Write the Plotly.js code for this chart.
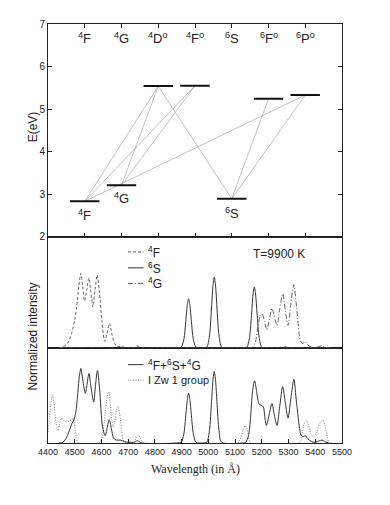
<!DOCTYPE html>
<html>
<head>
<meta charset="utf-8">
<script src="https://cdn.plot.ly/plotly-3.0.1.min.js"></script>
<style>body{margin:0;background:#fff}</style>
</head>
<body>
<div id="chart" style="width:390px;height:505px"></div>
<script>
// energy levels (top panel)
const lvName=['<sup>4</sup>F','<sup>4</sup>G','<sup>4</sup>D<sup>o</sup>','<sup>4</sup>F<sup>o</sup>','<sup>6</sup>S','<sup>6</sup>F<sup>o</sup>','<sup>6</sup>P<sup>o</sup>'];
const lvX=[1,2,3,4,5,6,7];
const lvE=[2.83,3.21,5.54,5.55,2.89,5.24,5.33];
// transitions: [lower, upper] index into levels
const trans=[[0,2],[0,3],[0,6],[1,2],[1,3],[4,2],[4,5],[4,6]];

// middle panel: single terms, T=9900 K
const fX=[4440,4455,4470,4480,4490,4500,4508,4515,4523,4530,4537,4545,4553,4560,4568,4576,4584,4592,4602,4612,4620,4630,4638,4649,4660,4674,4690,4720,4733,4745,4800,5460];
const fY=[0,0.01,0.05,0.11,0.215,0.38,0.57,0.82,1.0,0.82,0.63,0.78,0.94,0.76,0.55,0.78,0.98,0.76,0.35,0.09,0.18,0.33,0.2,0.06,0.02,0.02,0.005,0,0.03,0,0,0];
const sX=[4440,4880,4898,4908,4916,4921,4926,4931,4936,4944,4954,4970,4980,4994,5004,5012,5017,5022,5027,5032,5040,5050,5070,5130,5144,5154,5162,5167,5172,5177,5182,5190,5200,5215,5280,5288,5296,5460];
const sY=[0,0,0.01,0.11,0.38,0.57,0.66,0.57,0.38,0.11,0.01,0,0,0.01,0.16,0.55,0.83,0.95,0.83,0.55,0.16,0.01,0,0,0.01,0.14,0.47,0.71,0.82,0.71,0.47,0.14,0.01,0,0,0.015,0,0];
const gX=[4440,5150,5165,5176,5186,5194,5201,5210,5219,5228,5238,5247,5257,5267,5278,5288,5298,5309,5320,5330,5344,5352,5362,5372,5385,5400,5415,5425,5435,5450,5460];
const gY=[0,0,0.01,0.08,0.3,0.43,0.46,0.36,0.24,0.38,0.53,0.42,0.3,0.52,0.73,0.5,0.3,0.6,0.85,0.55,0.1,0.06,0.08,0.04,0.01,0.005,0.02,0.03,0.01,0,0];

// bottom panel: sum and I Zw 1 group
const sumX=[4440,4456,4470,4480,4490,4496,4503,4510,4516,4523,4530,4540,4546,4553,4561,4571,4578,4585,4593,4604,4614,4621,4629,4637,4645,4655,4670,4685,4700,4720,4735,4750,4880,4898,4908,4916,4921,4926,4931,4936,4944,4954,4980,4994,5004,5012,5017,5022,5027,5032,5040,5050,5130,5140,5150,5158,5165,5173,5180,5188,5194,5205,5211,5217,5228,5238,5247,5257,5267,5278,5288,5298,5309,5320,5330,5348,5356,5363,5372,5385,5400,5415,5425,5435,5450];
const sumY=[0,0.01,0.08,0.17,0.27,0.31,0.4,0.62,0.87,1.02,0.86,0.68,0.8,0.95,0.76,0.56,0.8,0.99,0.74,0.22,0.1,0.2,0.32,0.2,0.07,0.04,0.04,0.02,0.01,0.01,0.03,0,0,0.01,0.12,0.4,0.58,0.68,0.58,0.4,0.12,0.01,0,0.01,0.17,0.57,0.85,0.98,0.85,0.57,0.17,0.01,0,0.01,0.1,0.35,0.7,0.85,0.72,0.55,0.52,0.5,0.36,0.24,0.4,0.54,0.38,0.24,0.5,0.77,0.55,0.34,0.62,0.87,0.55,0.1,0.09,0.1,0.06,0.02,0.01,0.03,0.04,0.02,0];
const izX=[4400,4406,4412,4417,4422,4430,4437,4443,4450,4458,4466,4474,4480,4488,4496,4502,4508,4515,4590,4598,4606,4614,4621,4627,4633,4638,4643,4650,4656,4662,4668,4675,4683,4695,4720,4728,4737,4746,4755,4765,5110,5120,5130,5138,5146,5152,5158,5340,5350,5358,5366,5374,5384,5394,5404,5416,5429,5437,5445,5452,5463];
const izY=[0.15,0.35,0.58,0.66,0.55,0.28,0.17,0.25,0.34,0.31,0.29,0.29,0.3,0.32,0.33,0.18,0.03,0,0,0.03,0.15,0.4,0.63,0.7,0.55,0.35,0.22,0.3,0.45,0.5,0.4,0.18,0.03,0,0,0.06,0.11,0.06,0.01,0,0,0.06,0.18,0.24,0.17,0.05,0,0,0.12,0.26,0.31,0.25,0.12,0.08,0.13,0.26,0.31,0.22,0.08,0.01,0];

const ink='#222';
const barHalf=0.4;

let barX=[],barY=[];
for(let i=0;i<lvX.length;i++){
    barX.push(lvX[i]-barHalf,lvX[i]+barHalf,null);
    barY.push(lvE[i],lvE[i],null);
}
let trX=[],trY=[];
trans.forEach(t=>{
    trX.push(lvX[t[0]],lvX[t[1]],null);
    trY.push(lvE[t[0]],lvE[t[1]],null);
});

const dashF='3px,2px';
const dashG='5px,2px,1px,2px';
const dashI='1px,1.5px';

const data=[
    {x:trX,y:trY,xaxis:'x',yaxis:'y',mode:'lines',line:{color:'#9a9a9a',width:0.6},hoverinfo:'skip'},
    {x:barX,y:barY,xaxis:'x',yaxis:'y',mode:'lines',line:{color:'#111',width:2},hoverinfo:'skip'},
    {x:fX,y:fY,xaxis:'x3',yaxis:'y2',mode:'lines',line:{color:'#555',width:0.9,dash:dashF,shape:'spline',smoothing:0.8}},
    {x:sX,y:sY,xaxis:'x3',yaxis:'y2',mode:'lines',line:{color:'#333',width:1,shape:'spline',smoothing:0.8}},
    {x:gX,y:gY,xaxis:'x3',yaxis:'y2',mode:'lines',line:{color:'#555',width:0.9,dash:dashG,shape:'spline',smoothing:0.8}},
    {x:izX,y:izY,xaxis:'x2',yaxis:'y3',mode:'lines',line:{color:'#888',width:1,dash:dashI,shape:'spline',smoothing:0.8}},
    {x:sumX,y:sumY,xaxis:'x2',yaxis:'y3',mode:'lines',line:{color:'#333',width:1,shape:'spline',smoothing:0.8}}
];

const yTop=0.4925, yMid=0.2269;
const frame={showline:true,linecolor:ink,linewidth:1,showgrid:false,zeroline:false};

const ann=[];
function label(x,y,text,opt){
    ann.push(Object.assign({x:x,y:y,xref:'paper',yref:'paper',text:text,showarrow:false,xanchor:'center',yanchor:'middle',font:{size:12}},opt||{}));
}
for(let i=0;i<lvX.length;i++){
    label(lvX[i],6.66,lvName[i],{xref:'x',yref:'y',font:{size:13}});
}
label(1,2.5,lvName[0],{xref:'x',yref:'y',font:{size:13}});
label(2,2.92,lvName[1],{xref:'x',yref:'y',font:{size:13}});
label(5.02,2.56,lvName[4],{xref:'x',yref:'y',font:{size:13}});
label(-0.05,0.754,'E(eV)',{textangle:-90});
label(-0.05,0.255,'Normalized intensity',{textangle:-90});
label(0.5,-0.063,'Wavelength (in Å)',{font:{size:12,family:'Liberation Serif, serif'}});
label(0.69,0.4507,'T=9900 K',{xanchor:'left'});

// legend keys
const legMid=[['<sup>4</sup>F',0.456,dashF,'#555'],['<sup>6</sup>S',0.418,'solid','#333'],['<sup>4</sup>G',0.381,dashG,'#555']];
const legBot=[['<sup>4</sup>F+<sup>6</sup>S+<sup>4</sup>G',0.187,'solid','#333'],['I Zw 1 group',0.150,dashI,'#888']];
const shapes=[];
legMid.concat(legBot).forEach(l=>{
    shapes.push({type:'line',xref:'paper',yref:'paper',x0:0.272,x1:0.325,y0:l[1],y1:l[1],line:{color:l[3],width:1,dash:l[2]}});
    label(0.332,l[1],l[0],{xanchor:'left',font:{size:l[0]=='I Zw 1 group'?11:12}});
});

const layout={
    width:390,height:505,
    margin:{l:48,r:48,t:24,b:62},
    paper_bgcolor:'#fff',plot_bgcolor:'#fff',
    font:{family:'Liberation Sans, Arial, sans-serif',color:ink,size:10},
    showlegend:false,
    xaxis:Object.assign({},frame,{anchor:'y',range:[0,8],tickvals:lvX,ticks:'inside',ticklen:4,tickcolor:ink,mirror:'ticks',showticklabels:false}),
    yaxis:Object.assign({},frame,{domain:[yTop,1],range:[2,7],tickvals:[2,3,4,5,6,7],ticks:'inside',ticklen:4,tickcolor:ink,mirror:'ticks',tickfont:{size:10}}),
    xaxis2:Object.assign({},frame,{anchor:'y3',range:[4400,5500],dtick:100,ticks:'inside',ticklen:4,tickcolor:ink,mirror:true,tickfont:{size:9}}),
    xaxis3:Object.assign({},frame,{anchor:'y2',matches:'x2',range:[4400,5500],ticks:'',showticklabels:false,mirror:true}),
    yaxis2:Object.assign({},frame,{domain:[yMid,yTop],range:[0,1.495],ticks:'',showticklabels:false,mirror:true}),
    yaxis3:Object.assign({},frame,{domain:[0,yMid],range:[0,1.3],ticks:'',showticklabels:false,mirror:true}),
    annotations:ann,
    shapes:shapes
};

Plotly.newPlot('chart',data,layout,{displayModeBar:false,staticPlot:true});
</script>
</body>
</html>
